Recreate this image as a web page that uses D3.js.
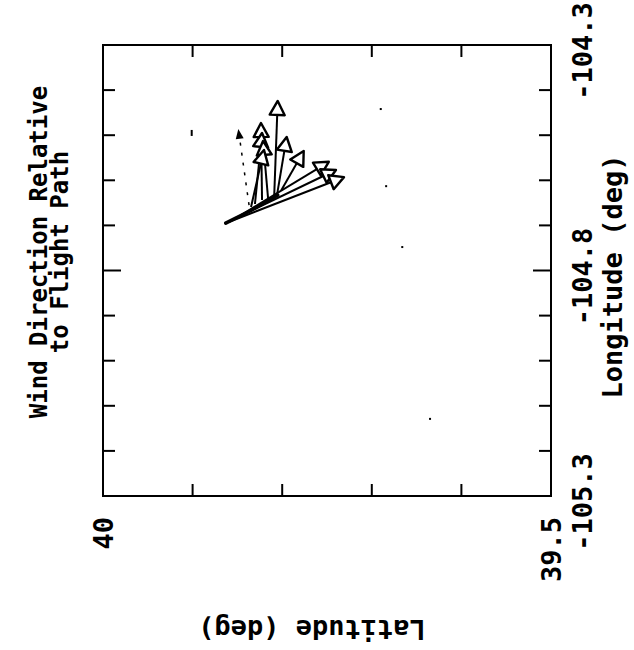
<!DOCTYPE html>
<html>
<head>
<meta charset="utf-8">
<script src="https://cdn.jsdelivr.net/npm/d3@7/dist/d3.min.js"></script>
<style>
  body { margin: 0; background: #fff; }
  svg text { font-family: "DejaVu Sans Mono", monospace; font-weight: bold; fill: #000; }
</style>
</head>
<body>
<div id="chart"></div>
<script>
// wind direction relative to flight path - rotated plot (latitude across, longitude down)
const WIDTH = 634;
const HEIGHT = 650;
const BOX = { left: 103, right: 551, top: 45, bottom: 496 };

const latTicks = [40, 39.9, 39.8, 39.7, 39.6, 39.5];
const latLabels = ["40", "39.5"];
const lonTicks = [-104.3, -104.4, -104.5, -104.6, -104.7, -104.8, -104.9, -105.0, -105.1, -105.2, -105.3];
const lonLabels = ["-104.3", "-104.8", "-105.3"];

// wind arrows: base point on flight path -> tip
const arrowBaseLat = [39.809, 39.8225, 39.8304, 39.8158, 39.8348, 39.806, 39.801, 39.846, 39.852, 39.859];
const arrowBaseLon = [-104.639, -104.6437, -104.6525, -104.6392, -104.6592, -104.635, -104.622, -104.677, -104.684, -104.692];
const arrowTipLat = [39.805, 39.8237, 39.8225, 39.8214, 39.8203, 39.795, 39.776, 39.748, 39.740, 39.731];
const arrowTipLon = [-104.424, -104.4729, -104.4951, -104.5129, -104.5328, -104.504, -104.535, -104.559, -104.577, -104.593];

// faint (broken) arrow
const faintBase = [39.837, -104.655];
const faintTip = [39.849, -104.486];

// flight path segment
const pathLat = [39.863, 39.835, 39.805];
const pathLon = [-104.695, -104.667, -104.633];

// stray marks
const markLat = [39.901, 39.690, 39.684, 39.666, 39.635];
const markLon = [-104.495, -104.442, -104.613, -104.748, -105.129];

const svg = d3
  .select("#chart")
  .append("svg")
  .attr("width", WIDTH)
  .attr("height", HEIGHT);

const x = d3.scaleLinear().domain([40, 39.5]).range([BOX.left, BOX.right]);
const y = d3.scaleLinear().domain([-104.3, -105.3]).range([BOX.top, BOX.bottom]);

// frame
svg
  .append("rect")
  .attr("x", BOX.left)
  .attr("y", BOX.top)
  .attr("width", BOX.right - BOX.left)
  .attr("height", BOX.bottom - BOX.top)
  .attr("fill", "none")
  .attr("stroke", "#000")
  .attr("stroke-width", 2);

// inward ticks, all four sides
const tickLen = 12;
const majorLen = 18;
svg
  .append("g")
  .selectAll("line")
  .data(latTicks.slice(1, -1))
  .join("line")
  .attr("x1", (d) => x(d))
  .attr("x2", (d) => x(d))
  .attr("y1", BOX.top)
  .attr("y2", BOX.top + tickLen)
  .attr("stroke", "#000")
  .attr("stroke-width", 2);

svg
  .append("g")
  .selectAll("line")
  .data(latTicks.slice(1, -1))
  .join("line")
  .attr("x1", (d) => x(d))
  .attr("x2", (d) => x(d))
  .attr("y1", BOX.bottom)
  .attr("y2", BOX.bottom - tickLen)
  .attr("stroke", "#000")
  .attr("stroke-width", 2);

svg
  .append("g")
  .selectAll("line")
  .data(lonTicks.slice(1, -1))
  .join("line")
  .attr("x1", BOX.left)
  .attr("x2", (d, i) => BOX.left + (i === 4 ? majorLen : tickLen))
  .attr("y1", (d) => y(d))
  .attr("y2", (d) => y(d))
  .attr("stroke", "#000")
  .attr("stroke-width", 2);

svg
  .append("g")
  .selectAll("line")
  .data(lonTicks.slice(1, -1))
  .join("line")
  .attr("x1", BOX.right)
  .attr("x2", (d, i) => BOX.right - (i === 4 ? majorLen : tickLen))
  .attr("y1", (d) => y(d))
  .attr("y2", (d) => y(d))
  .attr("stroke", "#000")
  .attr("stroke-width", 2);

// latitude tick labels (rotated, below the frame)
svg
  .append("g")
  .selectAll("text")
  .data(latLabels)
  .join("text")
  .attr("transform", (d) => `translate(${x(+d) + 10},517) rotate(-90)`)
  .attr("text-anchor", "end")
  .style("font-size", "27px")
  .text((d) => d);

// longitude tick labels (rotated, right of the frame)
svg
  .append("g")
  .selectAll("text")
  .data(lonLabels)
  .join("text")
  .attr("transform", (d) => `translate(592,${y(+d) + 6}) rotate(-90)`)
  .attr("text-anchor", "middle")
  .style("font-size", "27px")
  .text((d) => d);

svg
  .append("text")
  .attr("transform", `translate(622,${(BOX.top + BOX.bottom) / 2 + 6}) rotate(-90)`)
  .attr("text-anchor", "middle")
  .style("font-size", "27px")
  .text("Longitude (deg)");

svg
  .append("text")
  .attr("transform", "translate(312,620) rotate(180)")
  .attr("text-anchor", "middle")
  .style("font-size", "27px")
  .text("Latitude (deg)");

// title, two rotated lines
const title = ["Wind Direction Relative", "to Flight Path"];
svg
  .append("g")
  .selectAll("text")
  .data(title)
  .join("text")
  .attr("transform", (d, i) => `translate(${47 + i * 21},252) rotate(-90)`)
  .attr("text-anchor", "middle")
  .style("font-size", "24px")
  .text((d) => d);

// flight path
const line = d3
  .line()
  .x((d) => x(d[0]))
  .y((d) => y(d[1]));

svg
  .append("path")
  .datum(d3.zip(pathLat, pathLon))
  .attr("d", line)
  .attr("fill", "none")
  .attr("stroke", "#000")
  .attr("stroke-width", 3.5)
  .attr("stroke-linecap", "round");

// arrows
const arrows = arrowBaseLat.map((d, i) => ({
  x0: x(d),
  y0: y(arrowBaseLon[i]),
  x1: x(arrowTipLat[i]),
  y1: y(arrowTipLon[i]),
}));

function headGeom(a, len, half) {
  const dx = a.x1 - a.x0;
  const dy = a.y1 - a.y0;
  const n = Math.hypot(dx, dy);
  const ux = dx / n;
  const uy = dy / n;
  const bx = a.x1 - ux * len;
  const by = a.y1 - uy * len;
  return {
    bx,
    by,
    pts: [
      [a.x1, a.y1],
      [bx - uy * half, by + ux * half],
      [bx + uy * half, by - ux * half],
    ],
  };
}

const arrowG = svg.append("g");
arrows.forEach((a) => {
  const h = headGeom(a, 14, 7.5);
  arrowG
    .append("line")
    .attr("x1", a.x0)
    .attr("y1", a.y0)
    .attr("x2", h.bx)
    .attr("y2", h.by)
    .attr("stroke", "#000")
    .attr("stroke-width", 2);
  arrowG
    .append("polygon")
    .attr("points", h.pts.map((p) => p.join(",")).join(" "))
    .attr("fill", "#fff")
    .attr("stroke", "#000")
    .attr("stroke-width", 2.4)
    .attr("stroke-linejoin", "round");
});

// faint broken arrow
const fa = { x0: x(faintBase[0]), y0: y(faintBase[1]), x1: x(faintTip[0]), y1: y(faintTip[1]) };
const fh = headGeom(fa, 10, 4);
arrowG
  .append("line")
  .attr("x1", fa.x0)
  .attr("y1", fa.y0)
  .attr("x2", fh.bx)
  .attr("y2", fh.by)
  .attr("stroke", "#000")
  .attr("stroke-width", 1.5)
  .attr("stroke-dasharray", "3,7");
arrowG
  .append("polygon")
  .attr("points", fh.pts.map((p) => p.join(",")).join(" "))
  .attr("fill", "#000")
  .attr("stroke", "none");

// stray marks
svg
  .append("g")
  .selectAll("rect")
  .data(d3.zip(markLat, markLon))
  .join("rect")
  .attr("x", (d) => x(d[0]) - 1)
  .attr("y", (d, i) => y(d[1]) - (i === 0 ? 3 : 1))
  .attr("width", 2)
  .attr("height", (d, i) => (i === 0 ? 6 : 2))
  .attr("fill", "#000");
</script>
</body>
</html>
